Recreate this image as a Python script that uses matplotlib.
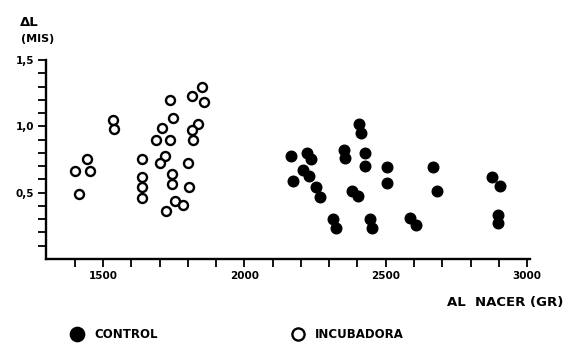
import matplotlib.pyplot as plt
import numpy as np

# incubadora (open circles)
inc_peso = [1849, 1814, 1857, 1737, 1747, 1534, 1540, 1837, 1814, 1708,
            1687, 1737, 1817, 1442, 1401, 1454, 1416, 1637, 1719, 1702,
            1802, 1743, 1743, 1637, 1637, 1637, 1805, 1755, 1784, 1723]
inc_dl = [1.30, 1.23, 1.18, 1.20, 1.065, 1.05, 0.98, 1.015, 0.97, 0.985,
          0.90, 0.90, 0.90, 0.75, 0.66, 0.66, 0.49, 0.75, 0.78, 0.72,
          0.72, 0.64, 0.565, 0.62, 0.545, 0.46, 0.54, 0.44, 0.41, 0.36]

# control (filled circles)
ctl_peso = [2407, 2412, 2164, 2221, 2235, 2352, 2356, 2427, 2427, 2506,
            2506, 2666, 2680, 2171, 2209, 2230, 2252, 2268, 2380, 2403,
            2315, 2324, 2444, 2450, 2586, 2607, 2875, 2904, 2898, 2898]
ctl_dl = [1.02, 0.95, 0.78, 0.80, 0.75, 0.82, 0.76, 0.80, 0.70, 0.69,
          0.57, 0.69, 0.515, 0.59, 0.67, 0.625, 0.54, 0.47, 0.51, 0.475,
          0.305, 0.23, 0.305, 0.23, 0.31, 0.255, 0.615, 0.55, 0.335, 0.27]

xticks = [1500, 2000, 2500, 3000]
xtick_labels = ['1500', '2000', '2500', '3000']
yticks = [0.5, 1.0, 1.5]
ytick_labels = ['0,5', '1,0', '1,5']

plt.rcParams['font.family'] = ['DejaVu Sans']
plt.rcParams['font.weight'] = 'bold'

fig = plt.figure(figsize=(5.65, 3.44), dpi=100)
ax = fig.add_axes([0.0823, 0.2471, 0.8556, 0.5785])

ax.scatter(ctl_peso, ctl_dl, s=58, c='black', edgecolors='black', linewidths=1, label='CONTROL')
ax.scatter(inc_peso, inc_dl, s=42, facecolors='white', edgecolors='black', linewidths=1.7, label='INCUBADORA')

ax.set_xlim(1300, 3010)
ax.set_ylim(0, 1.5)
ax.spines['top'].set_visible(False)
ax.spines['right'].set_visible(False)
ax.spines['left'].set_linewidth(1.7)
ax.spines['bottom'].set_linewidth(1.7)

ax.set_xticks(xticks)
ax.set_xticklabels(xtick_labels, fontsize=7.5, fontweight='bold')
ax.set_xticks(np.arange(1400, 3001, 100), minor=True)
ax.set_yticks(yticks)
ax.set_yticklabels(ytick_labels, fontsize=7.5, fontweight='bold')
ax.set_yticks(np.arange(0.1, 1.51, 0.1), minor=True)
ax.tick_params(which='both', direction='out', width=1.3, length=5.5, pad=3.5)

fig.text(0.035, 0.936, '\u0394L', fontsize=9.5, fontweight='bold', ha='left', va='center')
fig.text(0.038, 0.887, '(MIS)', fontsize=8, fontweight='bold', ha='left', va='center')
fig.text(0.997, 0.12, 'AL  NACER (GR)', fontsize=9.5, fontweight='bold', ha='right', va='center')

leg = ax.legend(loc='center left', bbox_to_anchor=(0.1265, 0.029), bbox_transform=fig.transFigure,
                ncol=2, frameon=False, fontsize=8.5, handlelength=1, handletextpad=0.9,
                columnspacing=11.4, borderpad=0, borderaxespad=0, markerscale=1.35)

fig.savefig('out.png', dpi=100)
